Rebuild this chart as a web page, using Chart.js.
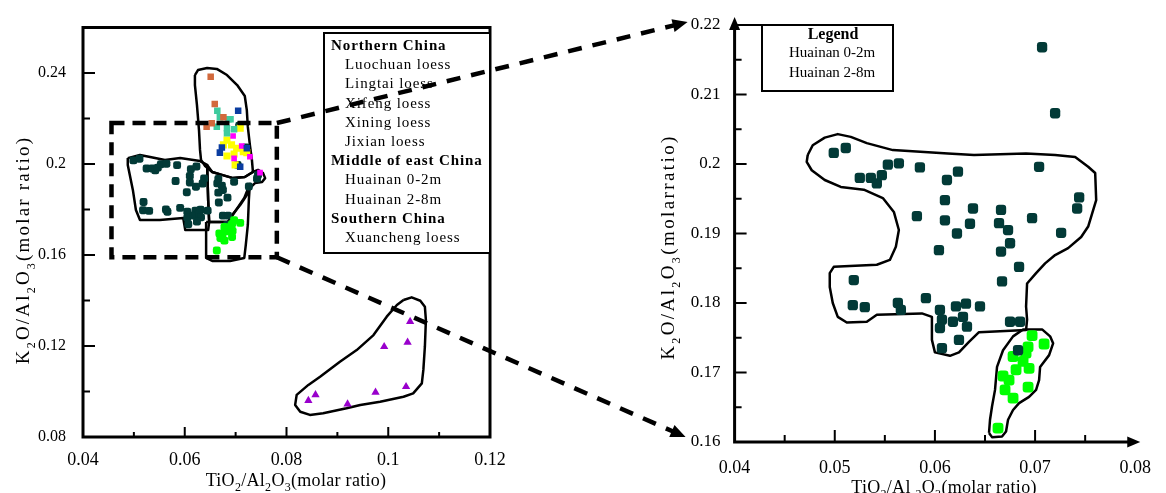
<!DOCTYPE html>
<html>
<head>
<meta charset="utf-8">
<script src="https://cdn.jsdelivr.net/npm/chart.js@4.4.1/dist/chart.umd.min.js"></script>
<style>
  html, body { margin: 0; padding: 0; background: #fff; }
  #wrap { position: relative; width: 1166px; height: 493px; overflow: hidden; }
  #wrap canvas { position: absolute; left: 0; top: 0; }
</style>
</head>
<body>
<div id="wrap">
  <canvas id="overview" width="1166" height="493"></canvas>
  <canvas id="detail" width="1166" height="493"></canvas>
</div>
<script>
const SERIF = '"Liberation Serif", "Times New Roman", serif';

// ---------- measured ratios: [TiO2/Al2O3, K2O/Al2O3] ----------
const huainan28 = [
  [0.0499,0.2016],[0.0511,0.2023],[0.0525,0.1980],[0.0536,0.1980],[0.0542,0.1972],[0.0547,0.1984],
  [0.0553,0.1999],[0.0564,0.2001],[0.0585,0.1995],[0.0612,0.1977],[0.0623,0.1989],[0.0704,0.1996],
  [0.0610,0.1948],[0.0638,0.1936],[0.0666,0.1934],[0.0582,0.1925],[0.0610,0.1919],[0.0635,0.1914],
  [0.0664,0.1915],[0.0697,0.1922],[0.0744,0.1952],[0.0742,0.1936],[0.0622,0.1900],[0.0673,0.1905],
  [0.0726,0.1901],[0.0675,0.1886],[0.0604,0.1876],[0.0666,0.1874],[0.0684,0.1852],[0.0519,0.1833],
  [0.0667,0.1831],[0.0518,0.1797],[0.0530,0.1794],[0.0563,0.1800],[0.0566,0.1790],[0.0591,0.1807],
  [0.0605,0.1790],[0.0607,0.1776],[0.0605,0.1764],[0.0621,0.1795],[0.0631,0.1799],[0.0645,0.1795],
  [0.0618,0.1773],[0.0628,0.1780],[0.0632,0.1766],[0.0624,0.1747],[0.0607,0.1735],[0.0675,0.1773],
  [0.0685,0.1773],[0.0683,0.1732],[0.0707,0.2168],[0.0720,0.2073]
];
const huainan02 = [
  [0.0697,0.1753],[0.0709,0.1741],[0.0693,0.1737],[0.0691,0.1728],[0.0678,0.1723],[0.0688,0.1716],
  [0.0694,0.1706],[0.0681,0.1704],[0.0668,0.1695],[0.0674,0.1689],[0.0693,0.1679],[0.0670,0.1675],
  [0.0678,0.1663],[0.0663,0.1620]
];
const luochuan = [[0.0651,0.2384],[0.0659,0.2264],[0.0676,0.2205],[0.0643,0.2164],[0.0653,0.2179]];
const lingtai = [[0.0664,0.2234],[0.0669,0.2205],[0.0686,0.2197],[0.0663,0.2164],[0.0683,0.2157],
  [0.0697,0.2153],[0.0690,0.2197],[0.0683,0.2135]];
const xifeng = [[0.0705,0.2234],[0.0673,0.2073],[0.0669,0.2050],[0.0722,0.2069],[0.0709,0.1988]];
const xining = [[0.0709,0.2157],[0.0683,0.2105],[0.0692,0.2084],[0.0702,0.2069],[0.0683,0.2035],
  [0.0697,0.2044],[0.0715,0.2054],[0.0722,0.2050],[0.0699,0.1996],[0.0676,0.2084]];
const jixian = [[0.0695,0.2123],[0.0697,0.2025],[0.0712,0.2079],[0.0728,0.2032],[0.0748,0.1962]];
const xuancheng = [[0.1043,0.1307],[0.0992,0.1197],[0.1038,0.1216],[0.0857,0.0985],[0.0843,0.0960],
  [0.0920,0.0945],[0.0975,0.0996],[0.1035,0.1021]];

// ---------- field envelopes (same units) ----------
const envLoess = [[0.0620,0.2391],[0.0626,0.2413],[0.0644,0.2422],[0.0663,0.2418],[0.0683,0.2391],
  [0.0703,0.2347],[0.0718,0.2299],[0.0722,0.2237],[0.0724,0.2163],[0.0728,0.2084],[0.0732,0.2018],
  [0.0734,0.1965],[0.0718,0.1943],[0.0695,0.1938],[0.0673,0.1952],[0.0654,0.1965],[0.0640,0.1991],
  [0.0632,0.2018],[0.0630,0.2062],[0.0628,0.2149],[0.0624,0.2259],[0.0620,0.2347]];
const envHuainanWest = [[0.0488,0.2026],[0.0512,0.2040],[0.0532,0.2031],[0.0561,0.2018],[0.0591,0.2026],
  [0.0630,0.2013],[0.0644,0.1996],[0.0646,0.1842],[0.0648,0.1745],[0.0646,0.1710],[0.0601,0.1710],
  [0.0597,0.1763],[0.0551,0.1754],[0.0512,0.1754],[0.0504,0.1798],[0.0498,0.1886],[0.0492,0.1952],
  [0.0488,0.1996]];
const envHuainanEast = [[0.0644,0.1996],[0.0654,0.1965],[0.0673,0.1952],[0.0695,0.1938],[0.0718,0.1943],
  [0.0734,0.1965],[0.0744,0.1974],[0.0754,0.1960],[0.0758,0.1938],[0.0752,0.1921],[0.0738,0.1916],
  [0.0728,0.1894],[0.0722,0.1864],[0.0709,0.1820],[0.0693,0.1776],[0.0685,0.1745],[0.0660,0.1745],
  [0.0648,0.1745],[0.0646,0.1842]];
const envHuainanLower = [[0.0642,0.1745],[0.0685,0.1745],[0.0701,0.1798],[0.0717,0.1851],[0.0728,0.1912],
  [0.0726,0.1842],[0.0724,0.1732],[0.0720,0.1644],[0.0717,0.1587],[0.0689,0.1574],[0.0654,0.1574],
  [0.0642,0.1587],[0.0642,0.1666]];
const envXuancheng = [[0.1030,0.1402],[0.1046,0.1414],[0.1063,0.1399],[0.1072,0.1373],[0.1074,0.1314],
  [0.1072,0.1197],[0.1069,0.1095],[0.1066,0.1036],[0.1049,0.0992],[0.1030,0.0977],[0.0984,0.0955],
  [0.0945,0.0941],[0.0918,0.0926],[0.0872,0.0904],[0.0846,0.0897],[0.0827,0.0911],[0.0817,0.0941],
  [0.0820,0.0985],[0.0843,0.1029],[0.0866,0.1065],[0.0905,0.1131],[0.0938,0.1182],[0.0971,0.1248],
  [0.0997,0.1329],[0.1017,0.1380]];
const envDetail28 = [[0.0473,0.2013],[0.0478,0.2027],[0.0490,0.2038],[0.0503,0.2043],[0.0516,0.2039],
  [0.0532,0.2030],[0.0558,0.2020],[0.0613,0.2015],[0.0639,0.2013],[0.0691,0.2015],[0.0720,0.2013],
  [0.0740,0.2010],[0.0753,0.1996],[0.0760,0.1987],[0.0761,0.1948],[0.0757,0.1929],[0.0753,0.1910],
  [0.0746,0.1895],[0.0733,0.1879],[0.0720,0.1869],[0.0710,0.1857],[0.0701,0.1843],[0.0692,0.1828],
  [0.0691,0.1795],[0.0692,0.1776],[0.0691,0.1761],[0.0644,0.1758],[0.0634,0.1744],[0.0624,0.1729],
  [0.0615,0.1724],[0.0600,0.1729],[0.0597,0.1747],[0.0597,0.1780],[0.0587,0.1785],[0.0542,0.1783],
  [0.0532,0.1773],[0.0512,0.1772],[0.0503,0.1780],[0.0498,0.1800],[0.0495,0.1823],[0.0495,0.1843],
  [0.0499,0.1852],[0.0542,0.1855],[0.0555,0.1862],[0.0561,0.1881],[0.0564,0.1905],[0.0559,0.1931],
  [0.0548,0.1951],[0.0529,0.1963],[0.0506,0.1967],[0.0490,0.1977],[0.0477,0.1991],[0.0472,0.2003]];
const envDetail02 = [[0.0654,0.1613],[0.0655,0.1632],[0.0657,0.1651],[0.0660,0.1675],[0.0662,0.1708],
  [0.0668,0.1732],[0.0678,0.1752],[0.0688,0.1762],[0.0707,0.1762],[0.0715,0.1752],[0.0718,0.1742],
  [0.0714,0.1725],[0.0705,0.1708],[0.0704,0.1689],[0.0701,0.1675],[0.0694,0.1665],[0.0684,0.1656],
  [0.0678,0.1646],[0.0673,0.1632],[0.0671,0.1615],[0.0667,0.1608],[0.0657,0.1607]];

// enlarged window on the overview: [x0, x1], [y0, y1]
const windowX = [0.0456, 0.0781];
const windowY = [0.1590, 0.2180];

// ---------- axes ----------
const overviewXTicks = [0.04, 0.06, 0.08, 0.10, 0.12];
const overviewXLabels = ['0.04', '0.06', '0.08', '0.1', '0.12'];
const overviewXMinor = [0.05, 0.07, 0.09, 0.11];
const overviewYTicks = [0.08, 0.12, 0.16, 0.20, 0.24];
const overviewYLabels = ['0.08', '0.12', '0.16', '0.2', '0.24'];
const overviewYMinor = [0.10, 0.14, 0.18, 0.22];
const detailXTicks = [0.04, 0.05, 0.06, 0.07, 0.08];
const detailXLabels = ['0.04', '0.05', '0.06', '0.07', '0.08'];
const detailXMinor = [0.045, 0.055, 0.065, 0.075];
const detailYTicks = [0.16, 0.17, 0.18, 0.19, 0.20, 0.21, 0.22];
const detailYLabels = ['0.16', '0.17', '0.18', '0.19', '0.2', '0.21', '0.22'];
const detailYMinor = [0.165, 0.175, 0.185, 0.195, 0.205, 0.215];

// ---------- legend text ----------
const overviewLegendRows = [
  ['Northern China', true], ['Luochuan loess', false], ['Lingtai loess', false], ['Xifeng loess', false],
  ['Xining loess', false], ['Jixian loess', false], ['Middle of east China', true],
  ['Huainan 0-2m', false], ['Huainan 2-8m', false], ['Southern China', true], ['Xuancheng loess', false]
];
const detailLegendTitle = 'Legend';
const detailLegendRows = ['Huainan 0-2m', 'Huainan 2-8m'];

const titleTi = [['TiO', 0], ['2', 1], ['/Al', 0], ['2', 1], ['O', 0], ['3', 1], ['(molar ratio)', 0]];
const titleTiDetail = [['TiO', 0], ['2', 1], ['/Al ', 0], ['2', 1], ['O', 0], ['3', 1], ['(molar ratio)', 0]];
const titleK = [['K', 0], ['2', 1], ['O/Al', 0], ['2', 1], ['O', 0], ['3', 1], ['(molar ratio)', 0]];
const titleKDetail = [['K', 0], ['2', 1], ['O/Al', 0], ['2', 1], ['O', 0], ['3', 1], ['(molarratio)', 0]];

// ---------- helpers ----------
const toXY = arr => arr.map(p => ({ x: p[0], y: p[1] }));
const closed = arr => toXY(arr.concat([arr[0]]));

function pointSet(data, color, style, radius, order) {
  return { data: toXY(data), showLine: false, pointStyle: style, pointRadius: radius,
    backgroundColor: color, borderColor: color, borderWidth: 0, order };
}
function outline(data) {
  return { data: closed(data), showLine: true, pointRadius: 0, borderColor: '#000', borderWidth: 2.5,
    fill: false, tension: 0, borderJoinStyle: 'round', order: 5 };
}
function linearAxis(min, max, ticks, labels, size, pad, fit, isX) {
  return {
    type: 'linear', min, max,
    grid: { display: false, drawTicks: false, tickLength: 0 },
    border: { display: false },
    ticks: { color: '#000', font: { family: SERIF, size }, padding: pad, autoSkip: false,
      maxRotation: 0, includeBounds: false, callback: (v, i) => labels[i] },
    afterBuildTicks: s => { s.ticks = ticks.map(v => ({ value: v })); },
    afterFit: s => { if (isX) s.height = fit; else s.width = fit; }
  };
}
function richText(ctx, parts, cx, cy, size, spacing, vertical) {
  ctx.save();
  ctx.translate(cx, cy);
  if (vertical) ctx.rotate(-Math.PI / 2);
  ctx.fillStyle = '#000';
  ctx.textAlign = 'left';
  ctx.textBaseline = 'alphabetic';
  ctx.letterSpacing = spacing + 'px';
  const fonts = parts.map(p => (p[1] ? Math.round(size * 0.65) : size) + 'px ' + SERIF);
  const widths = parts.map((p, i) => { ctx.font = fonts[i]; return ctx.measureText(p[0]).width; });
  let x = -widths.reduce((a, b) => a + b, 0) / 2;
  const base = size * 0.33;
  parts.forEach((p, i) => {
    ctx.font = fonts[i];
    ctx.fillText(p[0], x, base + (p[1] ? size * 0.3 : 0));
    x += widths[i];
  });
  ctx.restore();
}
function arrowHead(ctx, x, y, angle, len, half) {
  ctx.save();
  ctx.translate(x, y);
  ctx.rotate(angle);
  ctx.beginPath();
  ctx.moveTo(0, 0);
  ctx.lineTo(-len, -half);
  ctx.lineTo(-len, half);
  ctx.closePath();
  ctx.fillStyle = '#000';
  ctx.fill();
  ctx.restore();
}
function dashedArrow(ctx, x0, y0, x1, y1) {
  const ang = Math.atan2(y1 - y0, x1 - x0);
  const len = 15;
  ctx.save();
  ctx.strokeStyle = '#000';
  ctx.lineWidth = 4.5;
  ctx.setLineDash([14, 11]);
  ctx.beginPath();
  ctx.moveTo(x0, y0);
  ctx.lineTo(x1 - Math.cos(ang) * (len - 2), y1 - Math.sin(ang) * (len - 2));
  ctx.stroke();
  ctx.restore();
  arrowHead(ctx, x1, y1, ang, len, 6.5);
}
function tickMarks(ctx, scale, values, len, isX, area) {
  ctx.beginPath();
  values.forEach(v => {
    const p = scale.getPixelForValue(v);
    if (isX) { ctx.moveTo(p, area.bottom); ctx.lineTo(p, area.bottom - len); }
    else { ctx.moveTo(area.left, p); ctx.lineTo(area.left + len, p); }
  });
  ctx.stroke();
}

// ---------- overview chart ----------
const overviewDecor = {
  id: 'overviewDecor',
  afterDraw(chart) {
    const ctx = chart.ctx, a = chart.chartArea, sx = chart.scales.x, sy = chart.scales.y;
    ctx.save();
    ctx.strokeStyle = '#000';
    ctx.lineWidth = 2;
    tickMarks(ctx, sx, overviewXTicks, 10, true, a);
    tickMarks(ctx, sx, overviewXMinor, 5, true, a);
    tickMarks(ctx, sy, overviewYTicks, 12, false, a);
    tickMarks(ctx, sy, overviewYMinor, 7, false, a);
    ctx.lineWidth = 3;
    ctx.strokeRect(a.left, a.top, a.right - a.left, a.bottom - a.top);

    // enlarged window
    ctx.lineWidth = 4.5;
    ctx.setLineDash([13, 8]);
    const wx0 = sx.getPixelForValue(windowX[0]), wx1 = sx.getPixelForValue(windowX[1]);
    const wy0 = sy.getPixelForValue(windowY[0]), wy1 = sy.getPixelForValue(windowY[1]);
    ctx.strokeRect(wx0, wy1, wx1 - wx0, wy0 - wy1);
    ctx.setLineDash([]);

    // legend
    const lx = 324, ly = 33, lw = a.right - 324, lh = 220;
    ctx.fillStyle = '#fff';
    ctx.fillRect(lx, ly, lw, lh);
    ctx.lineWidth = 2;
    ctx.strokeRect(lx, ly, lw, lh);
    ctx.fillStyle = '#000';
    ctx.textBaseline = 'middle';
    ctx.textAlign = 'left';
    ctx.letterSpacing = '0.9px';
    overviewLegendRows.forEach((r, i) => {
      ctx.font = (r[1] ? 'bold ' : '') + '15px ' + SERIF;
      ctx.fillText(r[0], r[1] ? 331 : 345, 46 + i * 19.2);
    });
    ctx.restore();

    richText(ctx, titleTi, 296, 480, 18, 0.3, false);
    richText(ctx, titleK, 23, 250, 19, 2.2, true);
  }
};

const overviewChart = new Chart(document.getElementById('overview'), {
  type: 'scatter',
  data: {
    datasets: [
      pointSet(luochuan, '#d2693c', 'rect', 4.6, 1),
      pointSet(lingtai, '#3ecb9e', 'rect', 4.6, 1),
      pointSet(xifeng, '#0a3ca0', 'rect', 4.6, 1),
      pointSet(jixian, '#ff00ff', 'rect', 4.0, 1),
      pointSet(xining, '#ffff00', 'rect', 5.0, 1),
      pointSet(huainan02, '#00ff00', 'rectRounded', 4.6, 2),
      pointSet(huainan28, '#023a37', 'rectRounded', 4.6, 2),
      pointSet(xuancheng, '#9900cc', 'triangle', 4.8, 2),
      outline(envLoess), outline(envHuainanWest), outline(envHuainanEast),
      outline(envHuainanLower), outline(envXuancheng)
    ]
  },
  options: {
    responsive: false, animation: false, events: [],
    layout: { autoPadding: false, padding: { left: 0, top: 27.5, right: 676, bottom: 0 } },
    plugins: { legend: { display: false }, tooltip: { enabled: false } },
    scales: {
      x: linearAxis(0.04, 0.12, overviewXTicks, overviewXLabels, 18, 12, 56, true),
      y: linearAxis(0.08, 0.26, overviewYTicks, overviewYLabels, 16, 17, 83, false)
    }
  },
  plugins: [overviewDecor]
});

// ---------- detail chart ----------
const detailDecor = {
  id: 'detailDecor',
  afterDraw(chart) {
    const ctx = chart.ctx, a = chart.chartArea, sx = chart.scales.x, sy = chart.scales.y;
    ctx.save();
    ctx.strokeStyle = '#000';
    ctx.lineWidth = 2;
    tickMarks(ctx, sx, detailXTicks.slice(1, -1), 12, true, a);
    tickMarks(ctx, sx, detailXMinor, 7, true, a);
    tickMarks(ctx, sy, detailYTicks.slice(1, -1), 12, false, a);
    tickMarks(ctx, sy, detailYMinor, 7, false, a);

    // axes with arrow heads
    ctx.lineWidth = 3;
    ctx.beginPath();
    ctx.moveTo(a.left, a.top - 2);
    ctx.lineTo(a.left, a.bottom);
    ctx.lineTo(a.right, a.bottom);
    ctx.stroke();
    arrowHead(ctx, a.left, a.top - 8, -Math.PI / 2, 13, 5.5);
    arrowHead(ctx, a.right + 5, a.bottom, 0, 13, 5.5);

    // legend
    const bx = 762, by = a.top, bw = 131, bh = 66;
    ctx.lineWidth = 2;
    ctx.beginPath();
    ctx.moveTo(a.left, by);
    ctx.lineTo(bx, by);
    ctx.stroke();
    ctx.strokeRect(bx, by, bw, bh);
    ctx.fillStyle = '#000';
    ctx.textBaseline = 'middle';
    ctx.textAlign = 'center';
    ctx.font = 'bold 16px ' + SERIF;
    ctx.fillText(detailLegendTitle, 833, 35);
    ctx.textAlign = 'left';
    ctx.font = '15px ' + SERIF;
    detailLegendRows.forEach((t, i) => ctx.fillText(t, 789, 53 + i * 20));
    ctx.restore();

    richText(ctx, titleTiDetail, 944, 487, 18, 0.3, false);
    richText(ctx, titleKDetail, 668, 247, 19, 2.4, true);

    // connectors from the overview window to this panel
    const ox = overviewChart.scales.x, oy = overviewChart.scales.y;
    const cx = ox.getPixelForValue(windowX[1]);
    dashedArrow(ctx, cx, oy.getPixelForValue(windowY[1]), a.left - 47, sy.getPixelForValue(0.22) - 3);
    dashedArrow(ctx, cx, oy.getPixelForValue(windowY[0]), a.left - 49, sy.getPixelForValue(0.16) - 5);
  }
};

new Chart(document.getElementById('detail'), {
  type: 'scatter',
  data: {
    datasets: [
      pointSet(huainan28, '#023a37', 'rectRounded', 6, 1),
      pointSet(huainan02, '#00ff00', 'rectRounded', 6.3, 2),
      outline(envDetail28), outline(envDetail02)
    ]
  },
  options: {
    responsive: false, animation: false, events: [],
    layout: { autoPadding: false, padding: { left: 654.6, top: 25, right: 20.6, bottom: 0 } },
    plugins: { legend: { display: false }, tooltip: { enabled: false } },
    scales: {
      x: linearAxis(0.04, 0.08, detailXTicks, detailXLabels, 18, 15, 51, true),
      y: linearAxis(0.16, 0.22, detailYTicks, detailYLabels, 17, 14, 80, false)
    }
  },
  plugins: [detailDecor]
});
</script>
</body>
</html>
